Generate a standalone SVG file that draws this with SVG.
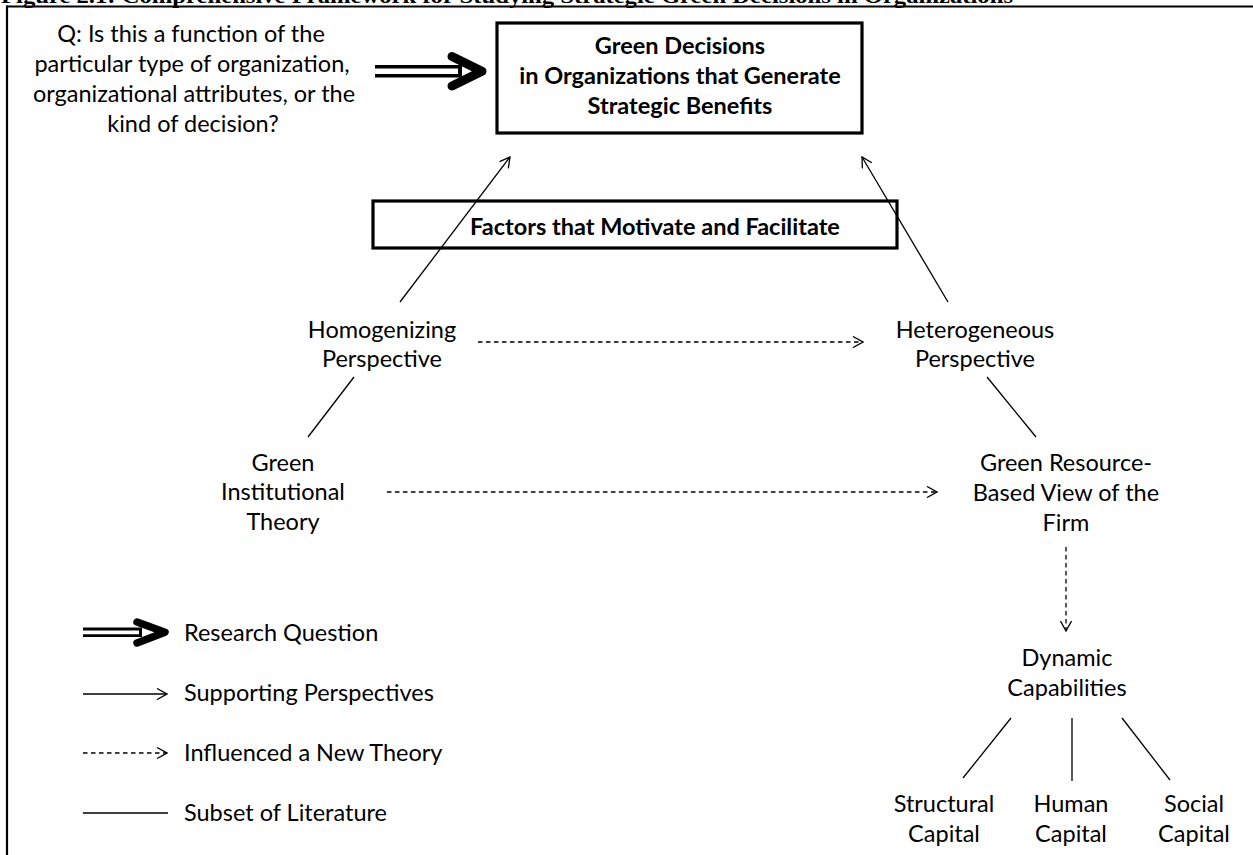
<svg xmlns="http://www.w3.org/2000/svg" width="1253" height="855" viewBox="0 0 1253 855">
  <style>
    .t { font-family: Lato, "Liberation Sans", sans-serif; font-size: 23.5px; fill: #000; }
    .tc { text-anchor: middle; }
    .b { font-weight: bold; }
    .ln { stroke: #000; stroke-width: 1.3; fill: none; }
    .dash { stroke-dasharray: 4.5 3.5; }
    .box { fill: none; stroke: #000; stroke-width: 3.2; }
    .chev { fill: none; stroke: #000; stroke-linecap: round; stroke-linejoin: round; }
  </style>
  <defs>
    <marker id="open" viewBox="0 0 12 12" refX="11" refY="6" markerWidth="12" markerHeight="12" markerUnits="userSpaceOnUse" orient="auto">
      <path d="M1,0.5 L11,6 L1,11.5" fill="none" stroke="#000" stroke-width="1.3"/>
    </marker>
  </defs>

  <rect width="1253" height="855" fill="#fff"/>

  <!-- figure caption, clipped at the page top -->
  <text x="1" y="3" font-family="'Liberation Serif', serif" font-weight="bold" font-size="22" textLength="1012" lengthAdjust="spacingAndGlyphs">Figure 2.1: Comprehensive Framework for Studying Strategic Green Decisions in Organizations</text>

  <!-- page frame -->
  <g id="frame" stroke="#000" stroke-width="2.2">
    <line x1="7" y1="6.5" x2="1253" y2="6.5"/>
    <line x1="7" y1="5.4" x2="7" y2="855"/>
  </g>

  <!-- connectors -->
  <g id="connectors">
    <line class="ln" x1="400" y1="302" x2="510" y2="157" marker-end="url(#open)"/>
    <line class="ln" x1="948" y1="302" x2="862" y2="157" marker-end="url(#open)"/>
    <line class="ln dash" x1="478" y1="342" x2="863" y2="342" marker-end="url(#open)"/>
    <line class="ln" x1="354" y1="377" x2="308" y2="437"/>
    <line class="ln dash" x1="387" y1="492" x2="937" y2="492" marker-end="url(#open)"/>
    <line class="ln" x1="987" y1="377" x2="1036" y2="437"/>
    <line class="ln dash" x1="1066" y1="547" x2="1066" y2="631" marker-end="url(#open)"/>
    <line class="ln" x1="1011" y1="718" x2="963" y2="778"/>
    <line class="ln" x1="1072" y1="718" x2="1072" y2="781"/>
    <line class="ln" x1="1122" y1="718" x2="1170" y2="780"/>
    <!-- research question double arrow -->
    <g id="rq-arrow">
      <line x1="375" y1="71.2" x2="462" y2="71.2" stroke="#000" stroke-width="12.5"/>
      <line x1="374" y1="71.2" x2="458" y2="71.2" stroke="#fff" stroke-width="5.5"/>
      <polyline class="chev" points="452,56.5 482,71.2 452,86" stroke-width="9"/>
    </g>
  </g>

  <!-- question -->
  <g id="question" class="t tc">
    <text x="191" y="42">Q: Is this a function of the</text>
    <text x="192" y="72">particular type of organization,</text>
    <text x="194" y="102">organizational attributes, or the</text>
    <text x="193" y="132">kind of decision?</text>
  </g>

  <!-- outcome box -->
  <g id="green-decisions">
    <rect class="box" x="497" y="23" width="365" height="110"/>
    <text class="t tc b" x="680" y="54">Green Decisions</text>
    <text class="t tc b" x="680" y="84">in Organizations that Generate</text>
    <text class="t tc b" x="680" y="114">Strategic Benefits</text>
  </g>

  <!-- motivating factors bar -->
  <g id="factors">
    <rect class="box" x="373" y="201" width="524" height="47" stroke-width="3.6"/>
    <text class="t tc b" x="655" y="235">Factors that Motivate and Facilitate</text>
  </g>

  <g id="homogenizing" class="t tc">
    <text x="382" y="338">Homogenizing</text>
    <text x="382" y="367">Perspective</text>
  </g>

  <g id="heterogeneous" class="t tc">
    <text x="975" y="338">Heterogeneous</text>
    <text x="975" y="367">Perspective</text>
  </g>

  <g id="institutional" class="t tc">
    <text x="283" y="471">Green</text>
    <text x="283" y="500">Institutional</text>
    <text x="283" y="530">Theory</text>
  </g>

  <g id="resource-based" class="t tc">
    <text x="1066" y="471">Green Resource-</text>
    <text x="1066" y="501">Based View of the</text>
    <text x="1066" y="531">Firm</text>
  </g>

  <g id="dynamic" class="t tc">
    <text x="1067" y="666">Dynamic</text>
    <text x="1067" y="696">Capabilities</text>
  </g>

  <g id="structural" class="t tc">
    <text x="944" y="812">Structural</text>
    <text x="944" y="842">Capital</text>
  </g>

  <g id="human" class="t tc">
    <text x="1071" y="812">Human</text>
    <text x="1071" y="842">Capital</text>
  </g>

  <g id="social" class="t tc">
    <text x="1194" y="812">Social</text>
    <text x="1194" y="842">Capital</text>
  </g>

  <!-- key -->
  <g id="legend">
    <line x1="83" y1="632.3" x2="142" y2="632.3" stroke="#000" stroke-width="9.5"/>
    <line x1="82" y1="632.3" x2="139" y2="632.3" stroke="#fff" stroke-width="3.8"/>
    <polyline class="chev" points="137,622 165,632.3 137,643" stroke-width="7.5"/>
    <text class="t" x="184" y="641">Research Question</text>

    <line class="ln" x1="83" y1="694" x2="167" y2="694" marker-end="url(#open)"/>
    <text class="t" x="184" y="701">Supporting Perspectives</text>

    <line class="ln dash" x1="83" y1="753" x2="167" y2="753" marker-end="url(#open)"/>
    <text class="t" x="184" y="761">Influenced a New Theory</text>

    <line class="ln" x1="83" y1="813" x2="168" y2="813"/>
    <text class="t" x="184" y="821">Subset of Literature</text>
  </g>
</svg>
